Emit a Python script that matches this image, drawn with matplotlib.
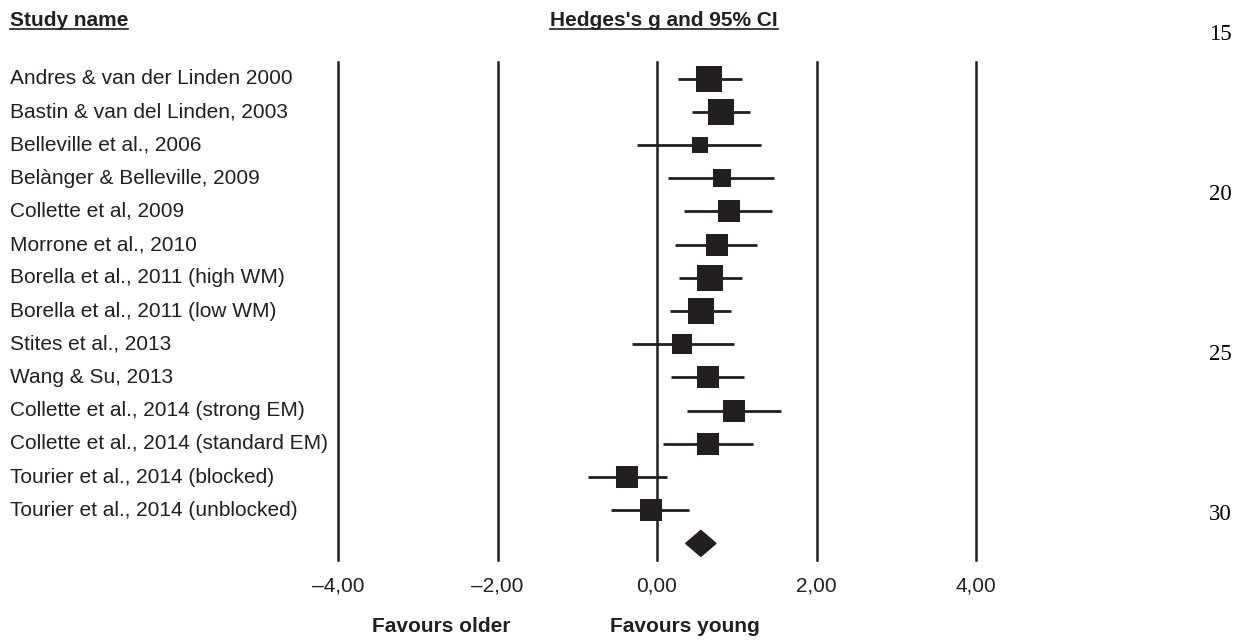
import numpy as np
import matplotlib
matplotlib.use("Agg")
import matplotlib.pyplot as plt
from matplotlib.patches import Polygon
from matplotlib.lines import Line2D
from matplotlib.transforms import blended_transform_factory

studies = [
    "Andres & van der Linden 2000",
    "Bastin & van del Linden, 2003",
    "Belleville et al., 2006",
    "Belànger & Belleville, 2009",
    "Collette et al, 2009",
    "Morrone et al., 2010",
    "Borella et al., 2011 (high WM)",
    "Borella et al., 2011 (low WM)",
    "Stites et al., 2013",
    "Wang & Su, 2013",
    "Collette et al., 2014 (strong EM)",
    "Collette et al., 2014 (standard EM)",
    "Tourier et al., 2014 (blocked)",
    "Tourier et al., 2014 (unblocked)",
]
g = [0.65, 0.80, 0.54, 0.81, 0.90, 0.75, 0.66, 0.55, 0.31, 0.64, 0.96, 0.64, -0.37, -0.08]
ci_low = [0.26, 0.44, -0.25, 0.14, 0.34, 0.23, 0.27, 0.16, -0.31, 0.18, 0.38, 0.08, -0.87, -0.58]
ci_high = [1.07, 1.16, 1.31, 1.47, 1.44, 1.26, 1.06, 0.93, 0.97, 1.09, 1.55, 1.21, 0.13, 0.40]
weight = [8.9, 9.6, 4.1, 5.1, 6.9, 6.9, 8.9, 8.9, 5.7, 7.5, 6.3, 6.3, 7.5, 7.5]  # relative weight, %
summary = (0.55, 0.36, 0.74)  # estimate, lower, upper

xticks = [-4, -2, 0, 2, 4]
xticklabels = ["\u20134,00", "\u20132,00", "0,00", "2,00", "4,00"]
line_numbers = [15, 20, 25, 30]

ink = "#231f20"
W, H = 1251, 641
plt.rcParams["font.family"] = ["Liberation Sans", "DejaVu Sans"]

fig = plt.figure(figsize=(W / 100, H / 100), dpi=100)
ax = fig.add_axes([338 / W, 81 / H, 638 / W, 498 / H])
ax.set_xlim(-4, 4)
ax.set_ylim(len(studies) + 0.5, -0.5)
for s in ax.spines.values():
    s.set_visible(False)
ax.set_yticks([])
ax.set_xticks(xticks)
ax.set_xticklabels(xticklabels, fontsize=15, color=ink)
ax.tick_params(axis="x", length=0, pad=12)

for xv in xticks:
    ax.axvline(xv, color=ink, lw=1.8, zorder=1, clip_on=False)

rows = np.arange(len(studies))
side = 26 * np.sqrt(np.array(weight) / 9.6) * 0.72  # px -> pt
ax.hlines(rows, ci_low, ci_high, color=ink, lw=2, zorder=2)
for r, x, s in zip(rows, g, side):
    ax.plot(x, r, marker="s", ms=s, color=ink, mec=ink, mew=0, zorder=3)

# summary diamond
est, lo, hi = summary
yd = len(studies)
hh = 0.39
ax.add_patch(Polygon([(lo, yd), (est, yd - hh), (hi, yd), (est, yd + hh)],
                     closed=True, color=ink, zorder=3))

# study names
tr = blended_transform_factory(fig.transFigure, ax.transData)
for r, name in zip(rows, studies):
    ax.text(10 / W, r, name, transform=tr, fontsize=15, color=ink,
            ha="left", va="center")

# favour labels
tr2 = blended_transform_factory(ax.transData, fig.transFigure)
ax.text(-2.71, 1 - 627 / H, "Favours older", transform=tr2, fontsize=15,
        fontweight="bold", color=ink, ha="center", va="center")
ax.text(0.35, 1 - 627 / H, "Favours young", transform=tr2, fontsize=15,
        fontweight="bold", color=ink, ha="center", va="center")

# headers (underlined)
h1 = fig.text(10 / W, 1 - 20 / H, "Study name", fontsize=15, fontweight="bold",
              color=ink, ha="left", va="center")
h2 = fig.text(664 / W, 1 - 20 / H, "Hedges's g and 95% CI", fontsize=15,
              fontweight="bold", color=ink, ha="center", va="center")
fig.canvas.draw()
rend = fig.canvas.get_renderer()
for h in (h1, h2):
    bb = h.get_window_extent(rend)
    yl = bb.y0 + 1
    fig.add_artist(Line2D([bb.x0 / W, bb.x1 / W], [yl / H, yl / H],
                          transform=fig.transFigure, color=ink, lw=1.2))

# manuscript line numbers
ln_y = [35, 195, 355, 515]
for n, yp in zip(line_numbers, ln_y):
    fig.text(1220 / W, 1 - yp / H, str(n), fontsize=16.5, color="black",
             family="Liberation Serif", ha="center", va="center")

fig.savefig("out.png", dpi=100, facecolor="white")
